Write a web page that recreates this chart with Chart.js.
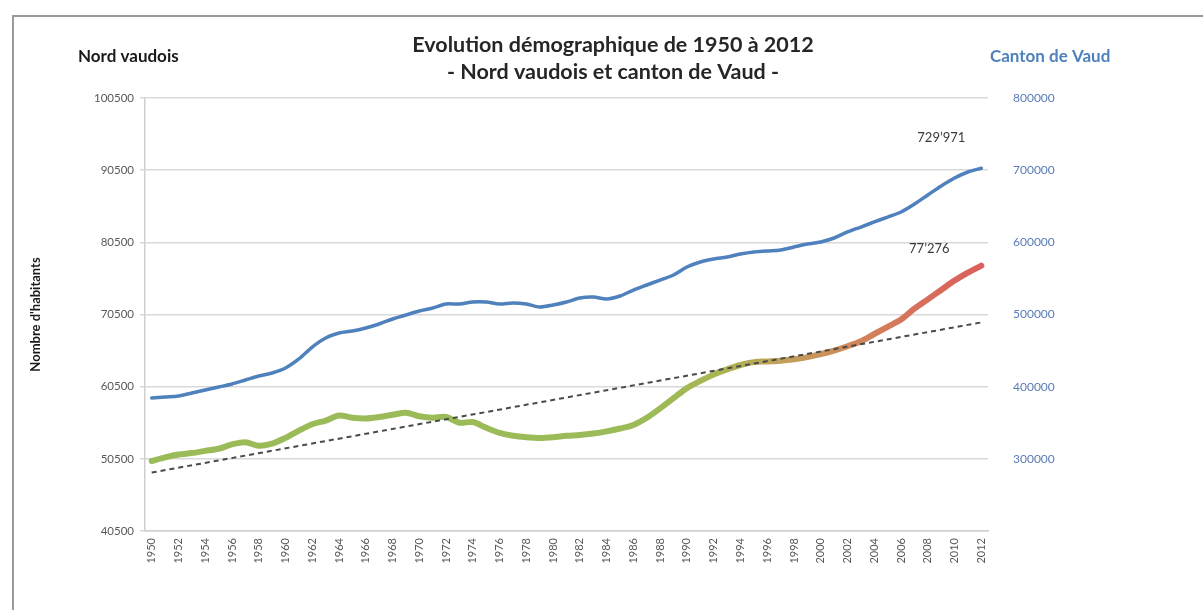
<!DOCTYPE html>
<html>
<head>
<meta charset="utf-8">
<script src="https://cdn.jsdelivr.net/npm/chart.js@4.4.0/dist/chart.umd.min.js"></script>
<style>
  html, body { margin: 0; padding: 0; background: #fff; }
  #wrap { width: 1203px; height: 610px; position: relative; }
</style>
</head>
<body>
<div id="wrap"><canvas id="myChart"></canvas></div>
<script>
const years = ['1950', '1951', '1952', '1953', '1954', '1955', '1956', '1957', '1958', '1959',
  '1960', '1961', '1962', '1963', '1964', '1965', '1966', '1967', '1968', '1969',
  '1970', '1971', '1972', '1973', '1974', '1975', '1976', '1977', '1978', '1979',
  '1980', '1981', '1982', '1983', '1984', '1985', '1986', '1987', '1988', '1989',
  '1990', '1991', '1992', '1993', '1994', '1995', '1996', '1997', '1998', '1999',
  '2000', '2001', '2002', '2003', '2004', '2005', '2006', '2007', '2008', '2009',
  '2010', '2011', '2012'];

// Nord vaudois (axe de gauche)
const nordVaudois = [50200, 50700, 51100, 51300, 51600, 51900, 52500, 52800, 52300, 52600,
  53400, 54400, 55300, 55800, 56500, 56200, 56100, 56300, 56600, 56900,
  56400, 56200, 56300, 55500, 55600, 54800, 54100, 53700, 53500, 53400,
  53500, 53700, 53800, 54000, 54300, 54700, 55200, 56200, 57500, 58900,
  60300, 61300, 62200, 62900, 63500, 63900, 64000, 64100, 64300, 64600,
  65000, 65500, 66100, 66800, 67800, 68800, 69800, 71300, 72600, 73900,
  75200, 76300, 77276];

// Canton de Vaud
const cantonVaud = [378500, 380000, 381600, 386200, 390700, 395300, 399900, 406000, 412200, 416800,
  424400, 438200, 456500, 470300, 478000, 481000, 485600, 491700, 499400, 505500,
  511600, 516200, 522300, 522300, 525400, 525400, 522300, 523900, 522300, 517700,
  520800, 525400, 531500, 533000, 530000, 534600, 543700, 551400, 559000, 566700,
  578900, 586600, 591200, 594200, 598800, 601900, 603400, 604900, 609500, 614100,
  617200, 623300, 632500, 640100, 647800, 655400, 663100, 675300, 689100, 702900,
  715100, 724300, 729971];

// tendance linéaire du Nord vaudois : valeurs en 1950 et en 2012
const trendYears = ['1950', '2012'];
const trendNord = [48600, 69400];

const leftTicks = [40500, 50500, 60500, 70500, 80500, 90500, 100500];
const rightTicks = [300000, 400000, 500000, 600000, 700000, 800000];

const FONT = 'Lato, "Open Sans", sans-serif';

function fmtApos(v) {
  return String(v).replace(/\B(?=(\d{3})+(?!\d))/g, '\u2019');
}

// vert -> rouge le long de la courbe du Nord vaudois
function nordGradient(context) {
  const chart = context.chart;
  if (!chart.chartArea) return '#9bbb59';
  const x = chart.scales.x;
  const x0 = x.getPixelForValue(0);
  const x1 = x.getPixelForValue(years.length - 1);
  const g = chart.ctx.createLinearGradient(x0, 0, x1, 0);
  g.addColorStop(0, '#9bbb59');
  g.addColorStop(0.60, '#9bbb59');
  g.addColorStop(0.68, '#a9b553');
  g.addColorStop(0.76, '#c1a05a');
  g.addColorStop(0.85, '#d2865a');
  g.addColorStop(0.93, '#d76e5c');
  g.addColorStop(1, '#db5f5c');
  return g;
}

const decorPlugin = {
  id: 'decor',
  beforeDraw(chart) {
    const ctx = chart.ctx;
    ctx.save();
    ctx.strokeStyle = '#9a9a9a';
    ctx.lineWidth = 2;
    ctx.beginPath();
    ctx.moveTo(13, 610);
    ctx.lineTo(13, 16);
    ctx.lineTo(1203, 16);
    ctx.stroke();
    ctx.restore();
  },
  afterDraw(chart) {
    const ctx = chart.ctx;
    ctx.save();
    ctx.textBaseline = 'middle';
    ctx.textAlign = 'center';
    ctx.fillStyle = '#262626';
    ctx.font = 'bold 21.5px ' + FONT;
    ctx.fillText('Evolution démographique de 1950 à 2012', 613, 45);
    ctx.fillText('- Nord vaudois et canton de Vaud -', 613, 72);

    ctx.textAlign = 'left';
    ctx.font = 'bold 17px ' + FONT;
    ctx.fillStyle = '#1a1a1a';
    ctx.fillText('Nord vaudois', 78, 57);
    ctx.fillStyle = '#4f81bd';
    ctx.fillText('Canton de Vaud', 990, 57);
    ctx.restore();
  },
  afterDatasetsDraw(chart) {
    const ctx = chart.ctx;
    const x = chart.scales.x;
    const last = years.length - 1;
    const px = x.getPixelForValue(last);
    const yBlue = chart.scales.yVaud.getPixelForValue(cantonVaud[last]);
    const yGreen = chart.scales.y.getPixelForValue(nordVaudois[last]);
    ctx.save();
    ctx.font = '13px ' + FONT;
    ctx.fillStyle = '#3a3a3a';
    ctx.textAlign = 'center';
    ctx.textBaseline = 'middle';
    ctx.fillText(fmtApos(cantonVaud[last]), px - 40, yBlue - 30);
    ctx.fillText(fmtApos(nordVaudois[last]), px - 52, yGreen - 17);
    ctx.restore();
  }
};

const ctx = document.getElementById('myChart').getContext('2d');
new Chart(ctx, {
  type: 'line',
  data: {
    labels: years,
    datasets: [
      {
        label: 'Tendance Nord vaudois',
        data: trendYears.map((yr, i) => ({ x: yr, y: trendNord[i] })),
        yAxisID: 'y',
        borderColor: '#4a4a4a',
        borderWidth: 2,
        borderDash: [5, 4],
        pointRadius: 0,
        fill: false
      },
      {
        label: 'Nord vaudois',
        data: nordVaudois,
        yAxisID: 'y',
        borderColor: nordGradient,
        borderWidth: 6,
        pointRadius: 0,
        tension: 0.3,
        borderCapStyle: 'round',
        borderJoinStyle: 'round',
        fill: false
      },
      {
        label: 'Canton de Vaud',
        data: cantonVaud,
        yAxisID: 'yVaud',
        borderColor: '#4f81bd',
        borderWidth: 3.5,
        pointRadius: 0,
        tension: 0.3,
        borderCapStyle: 'round',
        fill: false
      }
    ]
  },
  options: {
    responsive: true,
    maintainAspectRatio: false,
    animation: false,
    layout: { padding: { top: 98, left: 0, right: 0, bottom: 0 } },
    plugins: {
      legend: { display: false },
      tooltip: { enabled: false },
      title: { display: false }
    },
    scales: {
      x: {
        type: 'category',
        offset: true,
        grid: { display: false, drawTicks: false },
        border: { display: true, color: '#cfcfcf', width: 1.5 },
        ticks: {
          autoSkip: false,
          maxRotation: 90,
          minRotation: 90,
          padding: 7,
          color: '#595959',
          font: { family: FONT, size: 11 },
          callback: function (val, i) {
            return i % 2 === 0 ? years[i] : '';
          }
        },
        afterFit(scale) { scale.height = 79; }
      },
      y: {
        position: 'left',
        min: 40500,
        max: 100500,
        afterBuildTicks(scale) {
          scale.ticks = leftTicks.map(v => ({ value: v }));
        },
        grid: { color: '#d9d9d9', lineWidth: 1.5, tickLength: 5 },
        border: { display: true, color: '#cfcfcf', width: 1.5 },
        ticks: {
          padding: 6,
          color: '#595959',
          font: { family: FONT, size: 11.5 },
          callback: v => String(v)
        },
        title: {
          display: true,
          text: "Nombre d'habitants",
          color: '#1a1a1a',
          font: { family: FONT, size: 13, weight: 'bold' },
          padding: { top: 28, bottom: 0 }
        },
        afterFit(scale) { scale.width = 145; }
      },
      yRight: {
        position: 'right',
        min: 200000,
        max: 800000,
        afterBuildTicks(scale) {
          scale.ticks = rightTicks.map(v => ({ value: v }));
        },
        grid: { display: false, drawTicks: false },
        border: { display: false },
        ticks: {
          padding: 25,
          color: '#5a7bb5',
          font: { family: FONT, size: 12 },
          callback: v => String(v)
        },
        afterFit(scale) { scale.width = 215; }
      },
      yVaud: {
        position: 'right',
        display: false,
        min: 175000,
        max: 837500
      }
    }
  },
  plugins: [decorPlugin]
});
</script>
</body>
</html>
